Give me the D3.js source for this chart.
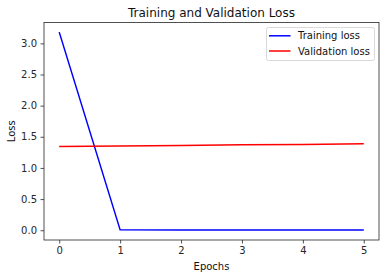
<!DOCTYPE html>
<html>
<head>
<meta charset="utf-8">
<script src="https://cdn.jsdelivr.net/npm/d3@7"></script>
<style>
  body { margin: 0; background: #fff; }
  svg { font-family: "DejaVu Sans", sans-serif; }
</style>
</head>
<body>
<div id="chart"></div>
<script>
const epochs = [0, 1, 2, 3, 4, 5];
const trainingLoss = [3.18, 0.006, 0.004, 0.003, 0.003, 0.003];
const validationLoss = [1.345, 1.352, 1.362, 1.372, 1.378, 1.39];
const xTicks = [0, 1, 2, 3, 4, 5];
const yTicks = [0.0, 0.5, 1.0, 1.5, 2.0, 2.5, 3.0];

const width = 386, height = 278;
const margin = { left: 44, right: 7, top: 22.5, bottom: 38 };

const svg = d3.select("#chart")
  .append("svg")
  .attr("width", width)
  .attr("height", height);

const x = d3.scaleLinear().domain([-0.25, 5.25]).range([margin.left, width - margin.right]);
const y = d3.scaleLinear().domain([-0.157, 3.335]).range([height - margin.bottom, margin.top]);

// axes
const xAxis = svg.append("g")
  .attr("transform", `translate(0,${height - margin.bottom})`)
  .call(d3.axisBottom(x).tickValues(xTicks).tickFormat(d3.format("d")).tickSize(3.5).tickPadding(3.5));
const yAxis = svg.append("g")
  .attr("transform", `translate(${margin.left},0)`)
  .call(d3.axisLeft(y).tickValues(yTicks).tickFormat(d3.format(".1f")).tickSize(3.5).tickPadding(3.5));

[xAxis, yAxis].forEach(g => {
  g.select(".domain").remove();
  g.selectAll("text").attr("font-size", 10).attr("fill", "#262626").attr("font-family", "DejaVu Sans, sans-serif");
  g.selectAll("line").attr("stroke", "#262626").attr("stroke-width", 0.8);
});

// lines
const line = d3.line().x((d, i) => x(epochs[i])).y(d => y(d));
svg.append("path").datum(trainingLoss)
  .attr("d", line).attr("fill", "none").attr("stroke", "blue").attr("stroke-width", 1.5);
svg.append("path").datum(validationLoss)
  .attr("d", line).attr("fill", "none").attr("stroke", "red").attr("stroke-width", 1.5);

// frame
svg.append("rect")
  .attr("x", margin.left).attr("y", margin.top)
  .attr("width", width - margin.left - margin.right)
  .attr("height", height - margin.top - margin.bottom)
  .attr("fill", "none").attr("stroke", "#262626").attr("stroke-width", 0.8);

// title and labels
svg.append("text")
  .attr("x", (margin.left + width - margin.right) / 2).attr("y", 16.5)
  .attr("text-anchor", "middle").attr("font-size", 12).attr("fill", "#111")
  .text("Training and Validation Loss");
svg.append("text")
  .attr("x", (margin.left + width - margin.right) / 2).attr("y", 270)
  .attr("text-anchor", "middle").attr("font-size", 10).attr("fill", "#111")
  .text("Epochs");
svg.append("text")
  .attr("transform", `translate(15,${(margin.top + height - margin.bottom) / 2}) rotate(-90)`)
  .attr("text-anchor", "middle").attr("font-size", 10).attr("fill", "#111")
  .text("Loss");

// legend
const legendItems = [
  { name: "Training loss", color: "blue" },
  { name: "Validation loss", color: "red" }
];
const legend = svg.append("g");
legend.append("rect")
  .attr("x", 266.5).attr("y", 27.5).attr("width", 108).attr("height", 33).attr("rx", 2)
  .attr("fill", "#fff").attr("fill-opacity", 0.8).attr("stroke", "#d0d0d0").attr("stroke-width", 0.8);
legendItems.forEach((d, i) => {
  const ly = 35.8 + i * 15.2;
  legend.append("line")
    .attr("x1", 269).attr("x2", 290.5).attr("y1", ly).attr("y2", ly)
    .attr("stroke", d.color).attr("stroke-width", 1.5);
  legend.append("text")
    .attr("x", 298).attr("y", ly).attr("dy", "0.35em")
    .attr("font-size", 10).attr("fill", "#111")
    .text(d.name);
});
</script>
</body>
</html>
